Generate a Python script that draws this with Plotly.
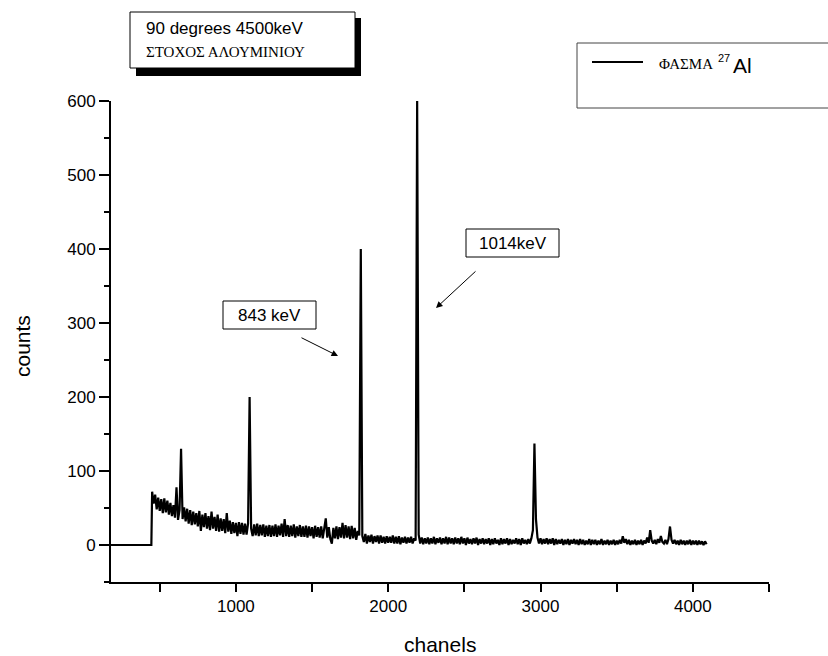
import plotly.graph_objects as go

# ---- data ----
lead_channels = [180, 445]
lead_counts = [0, 0]

channels = list(range(450, 4091, 10))
counts = [
    # 450-540
    72, 56, 68, 48, 64, 46, 62, 43, 63, 44,
    # 550-640
    60, 41, 57, 39, 54, 37, 78, 34, 47, 130,
    # 650-740
    35, 51, 32, 49, 29, 47, 27, 45, 28, 43,
    # 750-840
    25, 46, 19, 41, 24, 43, 22, 39, 20, 45,
    # 850-940
    22, 38, 19, 41, 18, 36, 19, 35, 16, 43,
    # 950-1040
    18, 33, 15, 31, 16, 30, 12, 31, 15, 30,
    # 1050-1140
    14, 29, 14, 29, 200, 22, 12, 28, 13, 29,
    # 1150-1240
    12, 27, 13, 28, 11, 26, 12, 27, 11, 26,
    # 1250-1340
    12, 28, 11, 26, 13, 29, 11, 35, 12, 27,
    # 1350-1440
    11, 26, 12, 28, 10, 25, 12, 27, 11, 25,
    # 1450-1540
    11, 26, 10, 25, 12, 24, 9, 26, 11, 24,
    # 1550-1640
    10, 25, 9, 24, 36, 10, 24, 8, 2, 23,
    # 1650-1740
    9, 25, 8, 24, 10, 30, 9, 27, 10, 25,
    # 1750-1840
    8, 26, 9, 23, 7, 19, 13, 400, 12, 4,
    # 1850-1940
    15, 2, 13, 4, 14, 2, 12, 4, 13, 2,
    # 1950-2040
    13, 3, 11, 2, 12, 3, 11, 3, 13, 2,
    # 2050-2140
    11, 2, 12, 1, 10, 3, 11, 2, 10, 3,
    # 2150-2240
    11, 2, 9, 6, 600, 14, 2, 10, 1, 9,
    # 2250-2340
    2, 10, 1, 9, 2, 11, 1, 9, 3, 10,
    # 2350-2440
    1, 9, 2, 11, 1, 10, 2, 9, 1, 10,
    # 2450-2540
    2, 9, 1, 11, 2, 9, 0, 10, 2, 8,
    # 2550-2640
    1, 9, 2, 10, 0, 8, 2, 9, 1, 8,
    # 2650-2740
    2, 9, 0, 8, 1, 9, 2, 7, 0, 9,
    # 2750-2840
    1, 8, 2, 9, 0, 8, 1, 7, 2, 9,
    # 2850-2940
    1, 8, 0, 9, 2, 7, 1, 8, 2, 9,
    # 2950-3040
    20, 137, 35, 10, 2, 9, 1, 8, 2, 9,
    # 3050-3140
    1, 8, 2, 9, 0, 8, 1, 7, 2, 8,
    # 3150-3240
    0, 7, 1, 8, 0, 7, 2, 8, 1, 7,
    # 3250-3340
    0, 8, 1, 7, 0, 6, 1, 8, 0, 7,
    # 3350-3440
    1, 7, 0, 6, 1, 8, 0, 6, 1, 7,
    # 3450-3540
    0, 6, 1, 7, 0, 6, 1, 7, 2, 12,
    # 3550-3640
    3, 8, 1, 7, 0, 6, 1, 7, 0, 6,
    # 3650-3740
    1, 7, 0, 6, 2, 10, 3, 20, 6, 2,
    # 3750-3840
    7, 1, 8, 3, 12, 4, 2, 7, 1, 8,
    # 3850-3940
    25, 7, 2, 7, 1, 6, 0, 7, 1, 6,
    # 3950-4040
    0, 6, 1, 7, 0, 6, 1, 6, 0, 6,
    # 4050-4090
    1, 5, 0, 5, 1,
]
assert len(channels) == len(counts)

x_major = [1000, 2000, 3000, 4000]
x_minor = [500, 1500, 2500, 3500, 4500]
y_major = [0, 100, 200, 300, 400, 500, 600]
y_minor = [-50, 50, 150, 250, 350, 450, 550]

all_x = lead_channels + channels
all_y = lead_counts + counts

# ---- figure geometry (pixels) ----
W, H = 828, 656
L, R, T, B = 111, 59, 101, 74
PW, PH = W - L - R, H - T - B


def X(px):
    return (px - L) / PW


def Y(py):
    return (H - B - py) / PH


SANS = "Liberation Sans, Arial, sans-serif"
SERIF = "Liberation Serif, Times New Roman, serif"

fig = go.Figure()
fig.add_trace(go.Scatter(
    x=all_x, y=all_y, mode="lines",
    line=dict(color="black", width=2.2),
    name="ΦΑΣΜΑ 27Al", showlegend=False, hoverinfo="x+y",
))

axis_common = dict(
    showgrid=False, zeroline=False, showline=True, linecolor="black",
    linewidth=2, ticks="outside", tickcolor="black", tickwidth=1.5,
    ticklen=8, tickfont=dict(family=SANS, size=17, color="black"),
)

fig.update_xaxes(
    range=[180, 4500], tickvals=x_major, ticktext=[str(v) for v in x_major],
    minor=dict(tickvals=x_minor, ticks="outside", ticklen=8,
               tickcolor="black", tickwidth=1.5),
    **axis_common,
)
fig.update_yaxes(
    range=[-50, 600], tickvals=y_major, ticktext=[str(v) for v in y_major],
    minor=dict(tickvals=y_minor, ticks="outside", ticklen=5,
               tickcolor="black", tickwidth=1.5),
    **axis_common,
)
fig.update_yaxes(ticklen=10)

shapes = []
annotations = []

# top-left info box with shadow
shapes.append(dict(type="rect", xref="paper", yref="paper",
                   x0=X(136), x1=X(361), y0=Y(76), y1=Y(18),
                   fillcolor="black", line=dict(width=0), layer="above"))
shapes.append(dict(type="rect", xref="paper", yref="paper",
                   x0=X(130), x1=X(355), y0=Y(68), y1=Y(12),
                   fillcolor="white", line=dict(color="black", width=1),
                   layer="above"))
annotations.append(dict(xref="paper", yref="paper", x=X(144), y=Y(28),
                        xanchor="left", yanchor="middle", showarrow=False,
                        text="90 degrees 4500keV",
                        font=dict(family=SANS, size=17, color="black")))
annotations.append(dict(xref="paper", yref="paper", x=X(144), y=Y(52),
                        xanchor="left", yanchor="middle", showarrow=False,
                        text="ΣΤΟΧΟΣ ΑΛΟΥΜΙΝΙΟΥ",
                        font=dict(family=SERIF, size=15, color="black")))

# legend box
shapes.append(dict(type="rect", xref="paper", yref="paper",
                   x0=X(577), x1=X(840), y0=Y(108), y1=Y(43),
                   fillcolor="white", line=dict(color="#444", width=1),
                   layer="above"))
shapes.append(dict(type="line", xref="paper", yref="paper",
                   x0=X(592), x1=X(643), y0=Y(62), y1=Y(62),
                   line=dict(color="black", width=2), layer="above"))
annotations.append(dict(xref="paper", yref="paper", x=X(657), y=Y(64),
                        xanchor="left", yanchor="middle", showarrow=False,
                        text="ΦΑΣΜΑ",
                        font=dict(family=SERIF, size=15, color="black")))
annotations.append(dict(xref="paper", yref="paper", x=X(716), y=Y(58),
                        xanchor="left", yanchor="middle", showarrow=False,
                        text="27",
                        font=dict(family=SANS, size=11, color="black")))
annotations.append(dict(xref="paper", yref="paper", x=X(731), y=Y(65),
                        xanchor="left", yanchor="middle", showarrow=False,
                        text="Al",
                        font=dict(family=SANS, size=21, color="black")))

# peak label boxes
for (x0, x1, y0, y1, label) in [(223, 316, 301, 329, "843 keV"),
                                (466, 559, 229, 257, "1014keV")]:
    shapes.append(dict(type="rect", xref="paper", yref="paper",
                       x0=X(x0), x1=X(x1), y0=Y(y1), y1=Y(y0),
                       fillcolor="white", line=dict(color="black", width=1),
                       layer="above"))
    annotations.append(dict(xref="paper", yref="paper",
                            x=X((x0 + x1) / 2), y=Y((y0 + y1) / 2),
                            xanchor="center", yanchor="middle",
                            showarrow=False, text=label,
                            font=dict(family=SANS, size=17, color="black")))

# arrows
for (tx, ty, hx, hy) in [(300, 337, 338, 356), (477, 270, 436, 308)]:
    annotations.append(dict(xref="paper", yref="paper", x=X(hx), y=Y(hy),
                            axref="pixel", ayref="pixel",
                            ax=tx - hx, ay=ty - hy, text="", showarrow=True,
                            arrowhead=2, arrowsize=1.3, arrowwidth=1,
                            arrowcolor="black"))

# axis titles
annotations.append(dict(xref="paper", yref="paper", x=X(440), y=Y(644),
                        xanchor="center", yanchor="middle", showarrow=False,
                        text="chanels",
                        font=dict(family=SANS, size=21, color="black")))
annotations.append(dict(xref="paper", yref="paper", x=X(22), y=Y(346),
                        xanchor="center", yanchor="middle", showarrow=False,
                        text="counts", textangle=-90,
                        font=dict(family=SANS, size=21, color="black")))

fig.update_layout(
    width=W, height=H,
    margin=dict(l=L, r=R, t=T, b=B, pad=0),
    paper_bgcolor="white", plot_bgcolor="white",
    shapes=shapes, annotations=annotations,
    showlegend=False,
)

fig.write_html(
    "out.html",
    config={"displayModeBar": False},
    post_script="document.body.style.margin='0';"
                "document.body.style.overflow='hidden';",
)
